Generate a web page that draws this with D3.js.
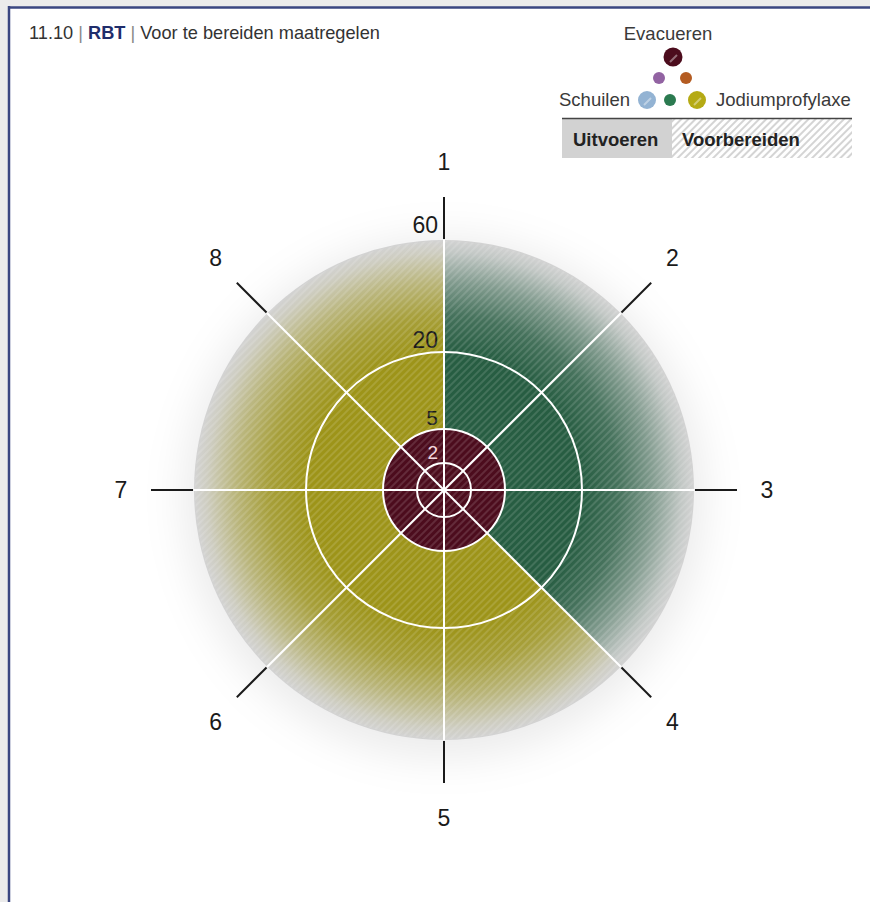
<!DOCTYPE html>
<html><head><meta charset="utf-8">
<script src="https://cdn.jsdelivr.net/npm/d3@7"></script>
<style>html,body{margin:0;padding:0;background:#fff}svg{display:block}text{font-family:"Liberation Sans",Arial,sans-serif}</style>
</head><body>
<svg id="c" width="870" height="902"></svg>
<script>
// ---- data ----
const sectorLabels = ["1","2","3","4","5","6","7","8"];
const ringValues = [2, 5, 20, 60];
const ringLabels = ["2", "5", "20", "60"];
const zoneNames = ["Evacueren", "Schuilen + Jodiumprofylaxe", "Jodiumprofylaxe"];
const zoneInner = [0, 5, 5];
const zoneOuter = [5, 60, 60];
const zoneStartSpoke = [1, 1, 4];
const zoneSectorCount = [8, 3, 5];
const legendTitle = ["11.10", "RBT", "Voor te bereiden maatregelen"];
const legendMeasures = ["Evacueren", "Schuilen", "Jodiumprofylaxe"];
const legendStates = ["Uitvoeren", "Voorbereiden"];

// ---- styles ----
const zoneColor = {"Evacueren":"#4c0c1d","Schuilen + Jodiumprofylaxe":"#275d42","Jodiumprofylaxe":"#9d9419"};
const grey = "#d3d3d3";

const svg = d3.select("#c");
const W = 870, H = 902, cx = 444, cy = 490;
const defs = svg.append("defs");

// frame
svg.append("rect").attr("width",W).attr("height",H).attr("fill","#ebebeb");
svg.append("rect").attr("x",9).attr("y",8).attr("width",W).attr("height",H).attr("fill","#fff");
svg.append("line").attr("x1",8).attr("x2",W).attr("y1",7.5).attr("y2",7.5).attr("stroke","#3a4680").attr("stroke-width",2.5);
svg.append("line").attr("x1",9).attr("x2",9).attr("y1",6).attr("y2",H).attr("stroke","#3a4680").attr("stroke-width",2.5);

// patterns
const hatch = defs.append("pattern").attr("id","hatch").attr("patternUnits","userSpaceOnUse")
  .attr("width",5).attr("height",5).attr("patternTransform","rotate(45)");
hatch.append("rect").attr("width",2).attr("height",5).attr("fill","#fff").attr("fill-opacity",0.13);
const hatchL = defs.append("pattern").attr("id","hatchL").attr("patternUnits","userSpaceOnUse")
  .attr("width",5).attr("height",5).attr("patternTransform","rotate(45)");
hatchL.append("rect").attr("width",5).attr("height",5).attr("fill","#fff");
hatchL.append("rect").attr("width",2).attr("height",5).attr("fill","#d4d4d4");

const blur = defs.append("filter").attr("id","glow").attr("x","-30%").attr("y","-30%").attr("width","160%").attr("height","160%");
blur.append("feGaussianBlur").attr("stdDeviation",20);

// scales
const r = d3.scaleLinear().domain([0, ...ringValues]).range([0, 27, 61, 138, 250]);
const ang = d3.scaleLinear().domain([0, sectorLabels.length]).range([0, 2*Math.PI]);
const R = r(60);

// radial gradients per zone (coordinates of the translated chart group)
zoneNames.forEach((z,i)=>{
  const g = defs.append("radialGradient").attr("id","g"+i).attr("gradientUnits","userSpaceOnUse")
    .attr("cx",0).attr("cy",0).attr("r",R);
  const c = zoneColor[z];
  [[0,1],[r(20)/R,1],[0.7,0.82],[0.83,0.48],[0.95,0.1],[1,0]].forEach(s=>{
    g.append("stop").attr("offset",s[0]).attr("stop-color",c).attr("stop-opacity",s[1]);
  });
});

const chart = svg.append("g").attr("transform",`translate(${cx},${cy})`);
chart.append("circle").attr("cy",8).attr("r",R+10).attr("fill","#000").attr("fill-opacity",0.08).attr("filter","url(#glow)");
chart.append("circle").attr("r",R).attr("fill",grey);

const arc = d3.arc();
zoneNames.forEach((z,i)=>{
  const a0 = ang(zoneStartSpoke[i]-1);
  const a1 = a0 + ang(zoneSectorCount[i]);
  const d = arc({innerRadius:r(zoneInner[i]), outerRadius:r(zoneOuter[i]), startAngle:a0, endAngle:a1});
  chart.append("path").attr("d",d).attr("fill", zoneOuter[i] === 60 ? `url(#g${i})` : zoneColor[z]);
});
// hatch overlay over whole disc
svg.append("circle").attr("cx",cx).attr("cy",cy).attr("r",R-1).attr("fill","url(#hatch)");

// rings
chart.selectAll(".ring").data(ringValues.slice(0,3)).join("circle")
  .attr("r",d=>r(d)).attr("fill","none").attr("stroke","#fff").attr("stroke-width",2);

// spokes
const spokes = d3.range(sectorLabels.length);
chart.selectAll(".spoke").data(spokes).join("line")
  .attr("x1",0).attr("y1",0)
  .attr("x2",d=>R*Math.sin(ang(d))).attr("y2",d=>-R*Math.cos(ang(d)))
  .attr("stroke","#fff").attr("stroke-width",2);
chart.selectAll(".tick").data(spokes).join("line")
  .attr("x1",d=>(R+1)*Math.sin(ang(d))).attr("y1",d=>-(R+1)*Math.cos(ang(d)))
  .attr("x2",d=>(R+43)*Math.sin(ang(d))).attr("y2",d=>-(R+43)*Math.cos(ang(d)))
  .attr("stroke","#1a1a1a").attr("stroke-width",2);
chart.selectAll(".slab").data(sectorLabels).join("text")
  .attr("x",(d,i)=>(R+73)*Math.sin(ang(i))).attr("y",(d,i)=>-(R+78)*Math.cos(ang(i)))
  .attr("text-anchor","middle").attr("dominant-baseline","central")
  .attr("font-size",23).attr("fill","#1a1a1a").text(d=>d);

// ring value labels
const rlSize = [19,21,23,23];
chart.selectAll(".rlab").data(ringValues).join("text")
  .attr("x",-6).attr("y",(d,i)=>-r(d)-(i===3?7:4))
  .attr("text-anchor","end").attr("font-size",(d,i)=>rlSize[i])
  .attr("fill",(d,i)=>i===0?"#f2d4dc":"#1a1a1a").text((d,i)=>ringLabels[i]);

// title
const t = svg.append("text").attr("x",29).attr("y",39).attr("font-size",18.2).attr("fill","#333");
t.append("tspan").text(legendTitle[0]+" ");
t.append("tspan").attr("fill","#888").text("| ");
t.append("tspan").attr("font-weight","bold").attr("fill","#1f2d6b").text(legendTitle[1]);
t.append("tspan").attr("fill","#888").text(" | ");
t.append("tspan").text(legendTitle[2]);

// legend
const lg = svg.append("g");
lg.append("text").attr("x",668).attr("y",40).attr("text-anchor","middle").attr("font-size",18.5).attr("fill","#3a3a3a").text(legendMeasures[0]);
lg.append("text").attr("x",630).attr("y",106).attr("text-anchor","end").attr("font-size",18.5).attr("fill","#3a3a3a").text(legendMeasures[1]);
lg.append("text").attr("x",716).attr("y",106).attr("text-anchor","start").attr("font-size",18.5).attr("fill","#3a3a3a").text(legendMeasures[2]);
const dots = [
  {x:673,y:57,r:9.5,c:"#4c0c1d"},
  {x:659,y:78,r:6,c:"#9263a2"},
  {x:686,y:78,r:6,c:"#b45c22"},
  {x:647,y:100,r:9,c:"#93b3d3"},
  {x:670,y:100,r:6,c:"#2b7a50"},
  {x:697,y:100,r:9,c:"#b5aa14"}
];
lg.selectAll(".dot").data(dots).join("circle").attr("cx",d=>d.x).attr("cy",d=>d.y).attr("r",d=>d.r).attr("fill",d=>d.c);
lg.selectAll(".doth").data(dots.filter(d=>d.r>8)).join("path")
  .attr("d",d=>`M${d.x-3},${d.y+5} L${d.x+4},${d.y-2}`).attr("stroke","#fff").attr("stroke-opacity",0.4).attr("stroke-width",2);
lg.append("rect").attr("x",562).attr("y",119).attr("width",110).attr("height",39).attr("fill","#d2d2d2");
lg.append("rect").attr("x",672).attr("y",119).attr("width",180).attr("height",39).attr("fill","url(#hatchL)");
lg.append("line").attr("x1",562).attr("x2",852).attr("y1",118.5).attr("y2",118.5).attr("stroke","#444").attr("stroke-width",1.5);
lg.append("text").attr("x",573).attr("y",146).attr("font-size",18.5).attr("font-weight","bold").attr("fill","#222").text(legendStates[0]);
lg.append("text").attr("x",682).attr("y",146).attr("font-size",18.5).attr("font-weight","bold").attr("fill","#222").text(legendStates[1]);
</script>
</body></html>
